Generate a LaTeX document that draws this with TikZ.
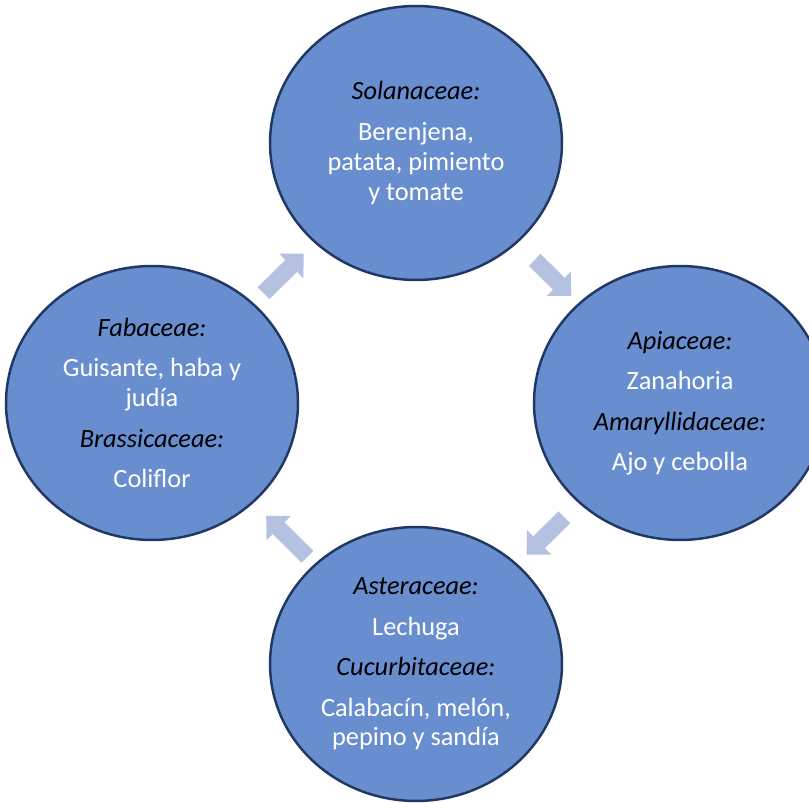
\documentclass[tikz,border=0pt]{standalone}
\usepackage{fontspec}
\setmainfont{Carlito}
\usepackage{xcolor}
\usetikzlibrary{arrows.meta,shapes.geometric}
\definecolor{petalblue}{RGB}{104,142,207}
\definecolor{petaledge}{RGB}{32,56,100}
\definecolor{flowblue}{RGB}{180,193,225}
\newcommand{\Fam}[1]{\textcolor{black}{\textit{#1}}}

\begin{document}
\begin{tikzpicture}[x=0.02cm,y=-0.02cm,
  font=\fontsize{15}{17}\selectfont,
  petal/.style={ellipse,fill=petalblue,draw=petaledge,line width=1.4pt,
    minimum width=5.84cm,minimum height=5.48cm,inner sep=0pt,
    text=white,align=center},
  flow/.style={draw=flowblue,line width=9.5pt,
    -{Triangle[length=10pt,width=19pt]}}]
\clip (0,0) rectangle (809,803);
% the four families of the rotation
\node[petal] (sol) at (416,143)
  {\Fam{Solanaceae:}\\[6pt]Berenjena,\\patata, pimiento\\y tomate};
\node[petal] (api) at (680,403)
  {\Fam{Apiaceae:}\\[6pt]Zanahoria\\[6pt]\Fam{Amaryllidaceae:}\\[6pt]Ajo y cebolla};
\node[petal] (ast) at (416,664)
  {\Fam{Asteraceae:}\\[6pt]Lechuga\\[6pt]\Fam{Cucurbitaceae:}\\[6pt]Calabac\'in, mel\'on,\\pepino y sand\'ia};
\node[petal] (fab) at (152,403)
  {\Fam{Fabaceae:}\\[6pt]Guisante, haba y\\jud\'ia\\[6pt]\Fam{Brassicaceae:}\\[6pt]Coliflor};
% arrows between them
\draw[flow,shorten <=0.28cm,shorten >=0.30cm] (fab) -- (sol);
\draw[flow,shorten <=0.48cm,shorten >=0.20cm] (sol) -- (api);
\draw[flow,shorten <=0.40cm,shorten >=0.26cm] (api) -- (ast);
\draw[flow,shorten <=0.20cm,shorten >=0.36cm] (ast) -- (fab);
\end{tikzpicture}
\end{document}
